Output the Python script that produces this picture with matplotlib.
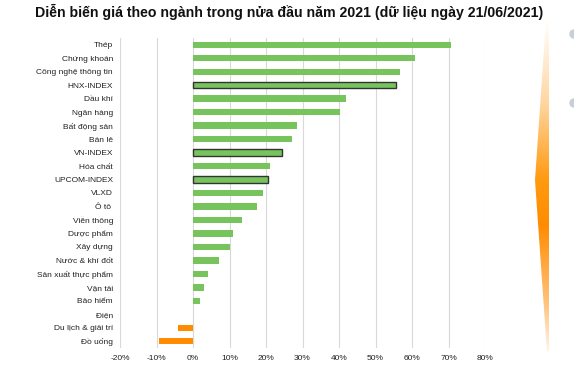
import numpy as np
import matplotlib
matplotlib.use("Agg")
import matplotlib.pyplot as plt
from matplotlib.patches import Polygon, Circle
from matplotlib.colors import LinearSegmentedColormap
from matplotlib.ticker import FuncFormatter

plt.rcParams["font.family"] = ["Liberation Sans", "DejaVu Sans"]

# ── Data ──────────────────────────────────────────────────────────────────────
categories = ["Thép", "Chứng khoán", "Công nghệ thông tin", "HNX-INDEX", "Dầu khí",
              "Ngân hàng", "Bất động sản", "Bán lẻ", "VN-INDEX", "Hóa chất",
              "UPCOM-INDEX", "VLXD", "Ô tô ", "Viễn thông", "Dược phẩm", "Xây dựng",
              "Nước & khí đốt", "Sản xuất thực phẩm", "Vận tải", "Bảo hiểm",
              "Điện", "Du lịch & giải trí", "Đồ uống"]
changes = [0.708, 0.607, 0.568, 0.557, 0.420, 0.402, 0.285, 0.271, 0.243, 0.210,
           0.205, 0.192, 0.176, 0.134, 0.109, 0.101, 0.070, 0.042, 0.029, 0.018,
           0.0, -0.041, -0.093]
indices = ["HNX-INDEX", "VN-INDEX", "UPCOM-INDEX"]

GREEN = "#76C45B"
ORANGE = "#FF8C00"

fig = plt.figure(figsize=(5.74, 3.72), dpi=100)
ax = fig.add_axes([120 / 574, 1 - 348 / 372, 365 / 574, 310 / 372])

y = np.arange(len(categories))
colors = [ORANGE if v < 0 else GREEN for v in changes]
edges = ["#333333" if c in indices else "none" for c in categories]
lws = [1.0 if c in indices else 0 for c in categories]
ax.barh(y, changes, height=0.47, color=colors, edgecolor=edges, linewidth=lws, zorder=3)

ax.set_xlim(-0.2, 0.8)
ax.set_ylim(len(categories) - 0.5, -0.5)
ax.set_xticks(np.arange(-0.2, 0.81, 0.1))
ax.xaxis.set_major_formatter(FuncFormatter(lambda v, p: f"{v * 100:.0f}%"))
ax.set_yticks(y)
ax.set_yticklabels(categories)
ax.tick_params(axis="both", length=0, labelsize=6, colors="#222222")
ax.tick_params(axis="y", pad=5)
ax.tick_params(axis="x", pad=5)
ax.grid(axis="x", color="#D9D9D9", linewidth=0.8, zorder=0)
for s in ax.spines.values():
    s.set_visible(False)

fig.text(35 / 574, 1 - 12 / 372,
         "Diễn biến giá theo ngành trong nửa đầu năm 2021 (dữ liệu ngày 21/06/2021)",
         fontsize=10.2, fontweight="bold", va="center", ha="left", color="#111111")

# ── Decorative orange wedge on the right ─────────────────────────────────────
ov = fig.add_axes([0, 0, 1, 1], zorder=-1)
ov.set_xlim(0, 574)
ov.set_ylim(372, 0)
ov.axis("off")
wedge = Polygon([(546, 20), (549, 20), (549, 350), (547, 352), (535, 180)],
                closed=True, facecolor="none", edgecolor="none")
ov.add_patch(wedge)
cmap = LinearSegmentedColormap.from_list(
    "wedge", [(0.0, "#FFFFFF"), (0.25, "#FFD6A0"), (0.48, "#FF9A10"),
              (0.62, "#FF8C00"), (0.85, "#FFC27A"), (1.0, "#FFF3E6")])
grad = np.linspace(0, 1, 256).reshape(-1, 1)
im = ov.imshow(grad, cmap=cmap, extent=(530, 552, 352, 20), aspect="auto")
im.set_clip_path(wedge)
for cy in (34, 103):
    ov.add_patch(Circle((574, cy), 4, color="#C9CEDC"))

fig.savefig("out.png", dpi=100)
